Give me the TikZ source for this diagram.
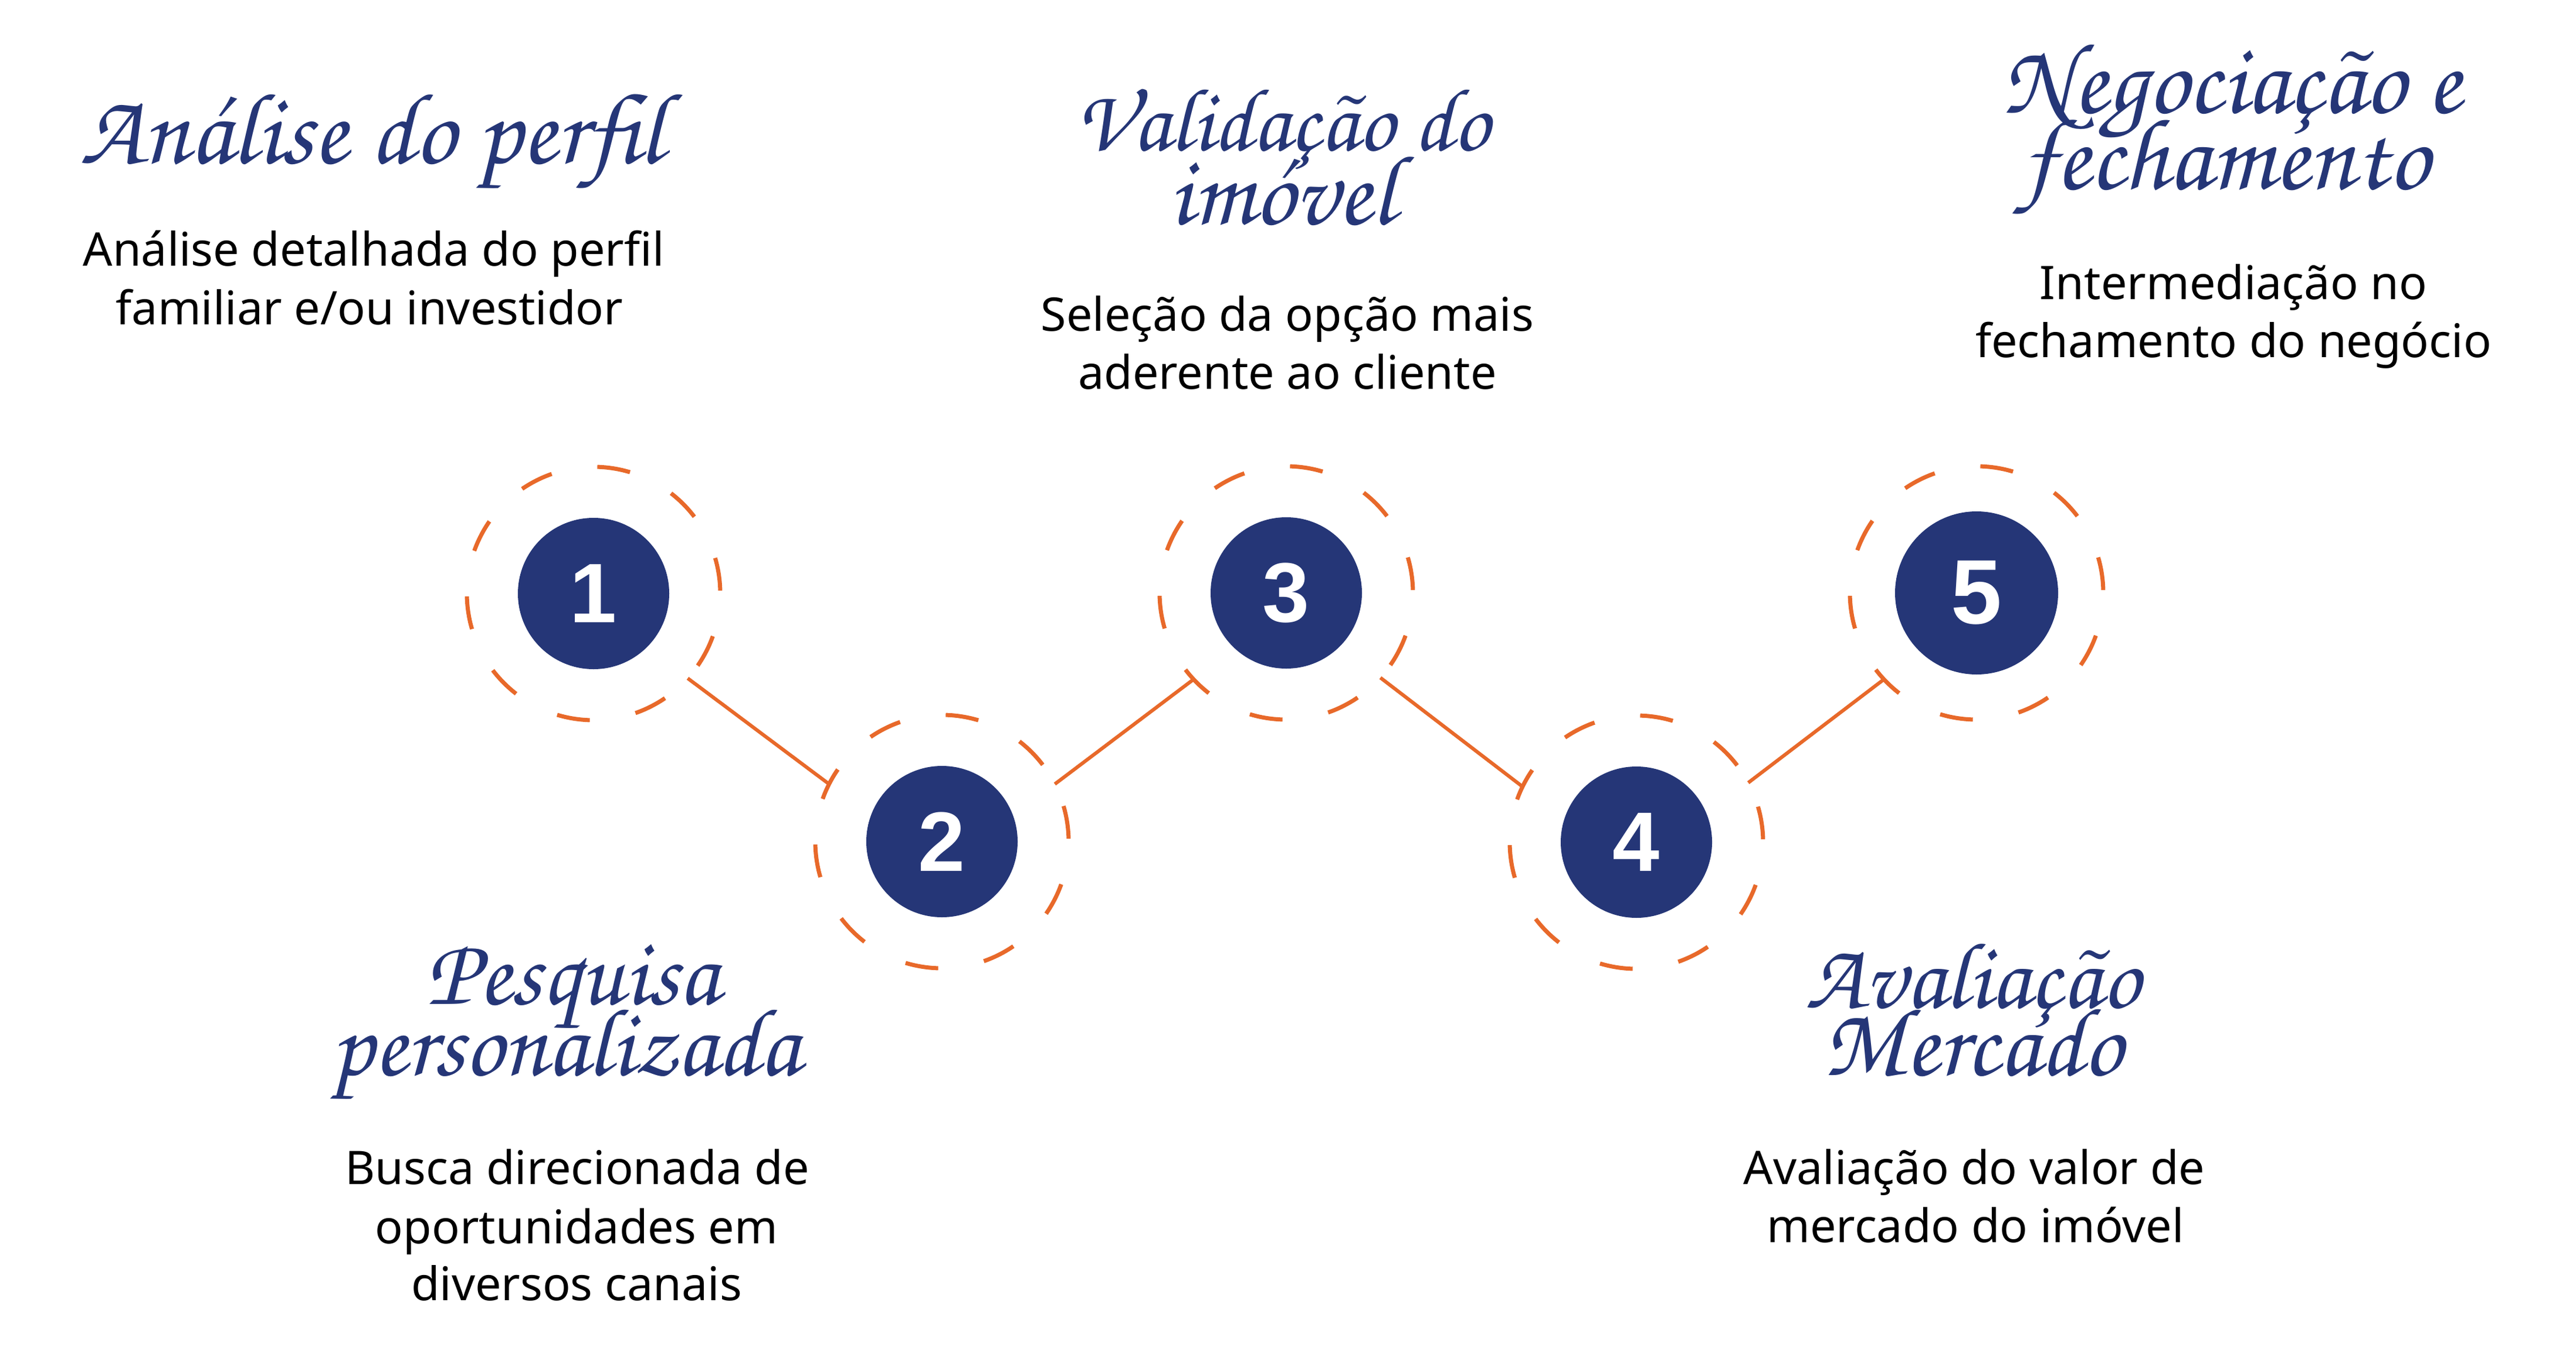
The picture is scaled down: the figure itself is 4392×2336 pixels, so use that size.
\documentclass[tikz,border=0pt]{standalone}
\usepackage{fontspec}
\setmainfont{Noto Sans}
\newfontfamily\numfont{Liberation Sans}
\IfFontExistsTF{texgyrechorus-mediumitalic.otf}
  {\newfontfamily\handfont{texgyrechorus-mediumitalic.otf}}
  {\newcommand\handfont{\itshape}}
\definecolor{navy}{HTML}{253677}
\definecolor{orng}{HTML}{E8692A}
\newcommand\hand[2]{\resizebox{#1pt}{!}{\handfont #2}}
% #1 line distance, #2 first line, #3 second line
\newcommand\twoline[3]{\vbox{\baselineskip=#1pt\lineskiplimit=-2000pt\lineskip=0pt\halign{\hfil##\hfil\cr #2\cr #3\cr}}}
\tikzset{
  ring/.style={circle, minimum size=432pt, inner sep=0pt, outer sep=0pt, draw=none},
  disc/.style={circle, fill=navy, inner sep=0pt, outer sep=0pt, minimum size=258pt, text=white,
    font=\numfont\bfseries\fontsize{144}{144}\selectfont},
  bigdisc/.style={disc, minimum size=278pt, font=\numfont\bfseries\fontsize{156}{156}\selectfont},
  link/.style={draw=orng, line width=6pt},
  dashring/.style={draw=orng, line width=7pt},
  body/.style={anchor=base, inner sep=0pt, font=\fontsize{79}{94}\selectfont, text=black},
  ttl/.style={anchor=base, inner sep=0pt, text=navy},
}
\begin{document}
\begin{tikzpicture}[x=1pt,y=-1pt]
\useasboundingbox (0,0) rectangle (4392,2336);
\fill[white] (0,0) rectangle (4392,2336);

% rings and discs
\node[ring] (r1) at (1012,1012) {};
\node[ring] (r2) at (1606,1435) {};
\node[ring] (r3) at (2193,1011) {};
\node[ring] (r4) at (2790,1436) {};
\node[ring] (r5) at (3370,1011) {};
\foreach \c in {r1,r2,r3,r4,r5}{
  \foreach \k in {0,...,9}{
    \pgfmathsetmacro\a{-8.8-36*\k}
    \draw[dashring] (\c.center) ++(\a-7.5:216) arc[start angle=\a-7.5, end angle=\a+7.5, radius=216];
  }
}
\node[disc] (n1) at (r1.center) {1};
\node[disc] (n2) at (r2.center) {2};
\node[disc] (n3) at (r3.center) {3};
\node[disc] (n4) at (r4.center) {4};
\node[bigdisc] (n5) at (r5.center) {5};

% connectors
\draw[link] (r1.-42.2) -- (r2.153.3);
\draw[link] (r2.27.4) -- (r3.-137.6);
\draw[link] (r3.-42.6) -- (r4.154);
\draw[link] (r4.28) -- (r5.223);

% titles
\node[ttl] (t1) at (634,278) {\hand{994}{Análise do perfil}};
\node[ttl] (t3) at (2186,382) {\twoline{126}{\hand{704}{Validação do}}{\hand{386}{imóvel}}};
\node[ttl] (t5) at (3800,322) {\twoline{130}{\kern11pt\hand{781}{Negociação e}}{\hand{691}{fechamento}\kern11pt}};
\node[ttl] (t2) at (970,1833) {\twoline{121}{\kern12pt\hand{499}{Pesquisa}}{\hand{798}{personalizada}\kern12pt}};
\node[ttl] (t4) at (3363,1833) {\twoline{115}{\hand{568}{Avaliação}}{\hand{508}{Mercado}}};

% body texts
\node[body] (b1a) at (637,453) {Análise detalhada do perfil};
\node[body] (b1b) at (630,553) {familiar e/ou investidor};
\node[body] (b3a) at (2195,564) {Seleção da opção mais};
\node[body] (b3b) at (2195,663) {aderente ao cliente};
\node[body] (b5a) at (3808,510) {Intermediação no};
\node[body] (b5b) at (3808,609) {fechamento do negócio};
\node[body] (b2a) at (984,2019) {Busca direcionada de};
\node[body] (b2b) at (983,2120) {oportunidades em};
\node[body] (b2c) at (983,2217) {diversos canais};
\node[body] (b4a) at (3366,2019) {Avaliação do valor de};
\node[body] (b4b) at (3368,2118) {mercado do imóvel};
\end{tikzpicture}
\end{document}
